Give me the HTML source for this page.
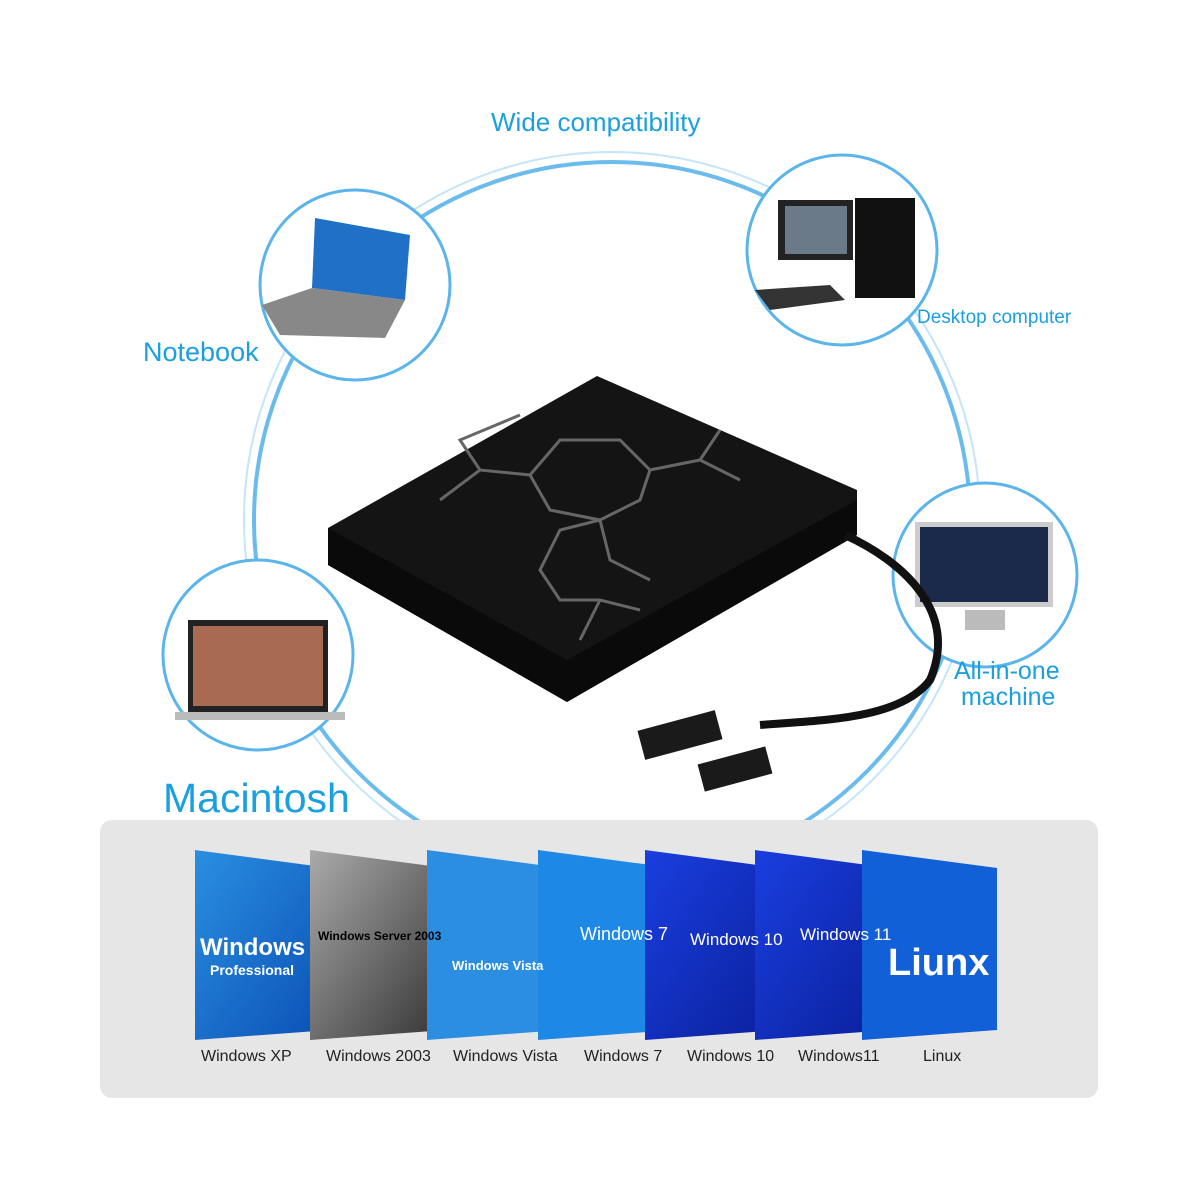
<!DOCTYPE html>
<html><head><meta charset="utf-8"><style>
body{margin:0;width:1200px;height:1200px;background:#fff;position:relative;overflow:hidden;font-family:"Liberation Sans",sans-serif}
.t{position:absolute;color:#1b9fdf;white-space:nowrap}
.lab{position:absolute;top:1048px;font-size:16px;color:#222;white-space:nowrap}
</style></head><body>
<svg width="1200" height="1200" style="position:absolute;left:0;top:0">
<defs>
<linearGradient id="b1" x1="0" y1="0" x2="1" y2="1"><stop offset="0" stop-color="#2a8fe0"/><stop offset="1" stop-color="#0a4fb5"/></linearGradient>
<linearGradient id="g1" x1="0" y1="0" x2="1" y2="1"><stop offset="0" stop-color="#aaa"/><stop offset="1" stop-color="#333"/></linearGradient>
<linearGradient id="b2" x1="0" y1="0" x2="1" y2="1"><stop offset="0" stop-color="#1a3fe0"/><stop offset="1" stop-color="#0a1f9a"/></linearGradient>
</defs>
<circle cx="612" cy="520" r="358" fill="none" stroke="#3aa6e6" stroke-width="4" opacity="0.75"/>
<circle cx="612" cy="520" r="368" fill="none" stroke="#9fd3f3" stroke-width="2" opacity="0.6"/>
<g fill="#fff" stroke="#5cb5ea" stroke-width="3">
<circle cx="355" cy="285" r="95"/><circle cx="842" cy="250" r="95"/>
<circle cx="985" cy="575" r="92"/><circle cx="258" cy="655" r="95"/>
</g>
<polygon points="315,218 410,235 405,300 312,288" fill="#2070c8"/>
<polygon points="262,305 312,288 405,300 385,338 280,335" fill="#888"/>
<rect x="778" y="200" width="75" height="60" fill="#222"/><rect x="785" y="206" width="62" height="48" fill="#6a7a88"/>
<rect x="855" y="198" width="60" height="100" fill="#111"/>
<polygon points="755,290 830,285 845,300 770,310" fill="#333"/>
<rect x="915" y="522" width="138" height="85" fill="#ccc"/><rect x="920" y="527" width="128" height="75" fill="#1b2a4a"/>
<rect x="965" y="610" width="40" height="20" fill="#bbb"/>
<rect x="188" y="620" width="140" height="92" fill="#222"/><rect x="193" y="626" width="130" height="80" fill="#a86a50"/>
<rect x="175" y="712" width="170" height="8" fill="#bbb"/>
<polygon points="328,528 597,376 857,490 857,535 567,702 328,565" fill="#141414"/>
<polygon points="328,528 567,660 857,500 857,535 567,702 328,565" fill="#0a0a0a"/>
<g stroke="#666" stroke-width="3" fill="none">
<path d="M440,500 L480,470 L530,475 L560,440 L620,440 L650,470 L700,460 L740,480 M530,475 L550,510 L600,520 L640,500 L650,470 M600,520 L610,560 L650,580 M480,470 L460,440 L520,415 M700,460 L720,430 M600,520 L560,530 L540,570 L560,600 L600,600 L640,610 M600,600 L580,640"/>
</g>
<path d="M845,535 C900,560 960,610 930,680 C900,720 820,720 760,725" stroke="#111" stroke-width="8" fill="none"/>
<rect x="640" y="720" width="80" height="30" fill="#1a1a1a" transform="rotate(-15 680 735)"/>
<rect x="700" y="755" width="70" height="28" fill="#1a1a1a" transform="rotate(-15 735 769)"/>
<rect x="100" y="820" width="998" height="278" rx="12" fill="#e6e6e6"/>
<polygon points="195,850 330,868 330,1030 195,1040" fill="url(#b1)"/>
<polygon points="310,850 446,868 446,1030 310,1040" fill="url(#g1)"/>
<polygon points="427,850 562,868 562,1030 427,1040" fill="#2b8ee0"/>
<polygon points="538,850 673,868 673,1030 538,1040" fill="#1d88e6"/>
<polygon points="645,850 780,868 780,1030 645,1040" fill="url(#b2)"/>
<polygon points="755,850 890,868 890,1030 755,1040" fill="url(#b2)"/>
<polygon points="862,850 997,868 997,1030 862,1040" fill="#1260d8"/>
<g fill="#fff" font-family="Liberation Sans" font-weight="bold">
<text x="200" y="955" font-size="24">Windows</text>
<text x="210" y="975" font-size="14">Professional</text>
<text x="318" y="940" font-size="12" fill="#000">Windows Server 2003</text>
<text x="452" y="970" font-size="13">Windows Vista</text>
<text x="580" y="940" font-size="18" font-weight="normal">Windows 7</text>
<text x="690" y="945" font-size="17" font-weight="normal">Windows 10</text>
<text x="800" y="940" font-size="17" font-weight="normal">Windows 11</text>
<text x="888" y="975" font-size="38">Liunx</text>
</g>
</svg>
<div class="t" style="left:491px;top:107px;font-size:26px">Wide compatibility</div>
<div class="t" style="left:143px;top:337px;font-size:27px">Notebook</div>
<div class="t" style="left:917px;top:307px;font-size:19px">Desktop computer</div>
<div class="t" style="left:954px;top:658px;font-size:25px;line-height:26px">All-in-one<br>&nbsp;machine</div>
<div class="t" style="left:163px;top:775px;font-size:41px">Macintosh</div>
<div class="lab" style="left:201px">Windows XP</div>
<div class="lab" style="left:326px">Windows 2003</div>
<div class="lab" style="left:453px">Windows Vista</div>
<div class="lab" style="left:584px">Windows 7</div>
<div class="lab" style="left:687px">Windows 10</div>
<div class="lab" style="left:798px">Windows11</div>
<div class="lab" style="left:923px">Linux</div>
</body></html>
